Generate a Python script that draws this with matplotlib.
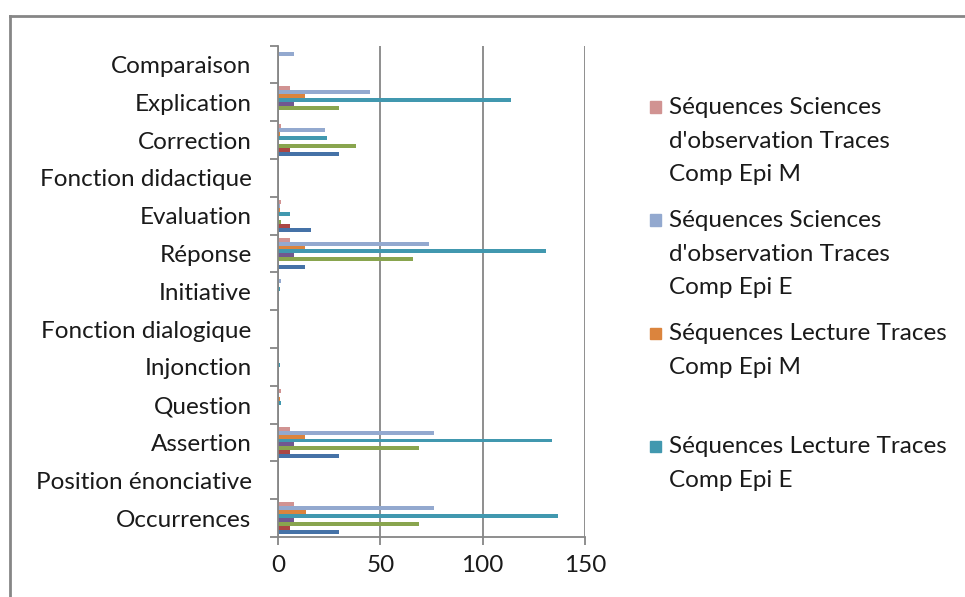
import matplotlib.pyplot as plt
import numpy as np
from matplotlib.patches import Rectangle

plt.rcParams['font.family'] = ['Lato', 'DejaVu Sans']

categories = ["Occurrences", "Position énonciative", "Assertion", "Question",
              "Injonction", "Fonction dialogique", "Initiative", "Réponse",
              "Evaluation", "Fonction didactique", "Correction", "Explication",
              "Comparaison"]

# series from bottom bar to top bar in each group
series_names = ["Séquences Lecture Traces Comp Lang E",
                "Séquences Lecture Traces Comp Lang M",
                "Séquences Sciences d'observation Traces Comp Lang E",
                "Séquences Sciences d'observation Traces Comp Lang M",
                "Séquences Lecture Traces Comp Epi E",
                "Séquences Lecture Traces Comp Epi M",
                "Séquences Sciences d'observation Traces Comp Epi E",
                "Séquences Sciences d'observation Traces Comp Epi M"]

s1 = [30, 0, 30, 0, 0, 0, 0, 13, 16, 0, 30, 0, 0]
s2 = [6, 0, 6, 0, 0, 0, 0, 0, 6, 0, 6, 0, 0]
s3 = [69, 0, 69, 0, 0, 0, 0, 66, 1.5, 0, 38, 30, 0]
s4 = [8, 0, 8, 0, 0, 0, 0, 8, 0, 0, 0, 8, 0]
s5 = [137, 0, 134, 1.5, 1, 0, 1, 131, 6, 0, 24, 114, 0]
s6 = [13.5, 0, 13, 1, 0, 0, 0, 13, 1, 0, 1, 13, 0]
s7 = [76, 0, 76, 0.5, 0, 0, 1.5, 74, 1, 0, 23, 45, 8]
s8 = [8, 0, 6, 1.5, 0, 0, 0, 6, 1.5, 0, 1.5, 6, 0]
all_series = [s1, s2, s3, s4, s5, s6, s7, s8]

colors = ["#4572A7", "#AA4643", "#89A54E", "#71588F",
          "#4198AF", "#DB843D", "#93A9CF", "#D19392"]

W, H = 965, 597
fs = 17.5
txt = "#1a1a1a"
fig = plt.figure(figsize=(W / 100, H / 100), dpi=100)
ax = fig.add_axes([278 / W, (H - 537) / H, (585 - 278) / W, (537 - 45.5) / H])

y = np.arange(len(categories))
h = 0.105
for i, vals in enumerate(all_series):
    off = -4 * h + h * (i + 0.5)
    ax.barh(y + off, vals, height=h, color=colors[i], label=series_names[i])

gray = "#868686"
ax.set_xlim(0, 150)
ax.set_ylim(-0.5, len(categories) - 0.5)
ax.set_xticks([0, 50, 100, 150])
ax.set_yticks(y)
ax.set_yticklabels(categories)
ax.set_yticks(np.arange(-0.5, len(categories), 1), minor=True)
ax.tick_params(axis='y', which='major', length=0, pad=19, labelsize=fs, labelcolor=txt)
ax.tick_params(axis='y', which='minor', length=6, width=1.3, color=gray)
ax.tick_params(axis='x', length=6, width=1.3, color=gray, pad=7, labelsize=fs, labelcolor=txt)
ax.xaxis.grid(True, color=gray, linewidth=1.3)
ax.set_axisbelow(True)
for s in ["top", "right"]:
    ax.spines[s].set_visible(False)
for s in ["left", "bottom"]:
    ax.spines[s].set_color(gray)
    ax.spines[s].set_linewidth(1.3)

# chart area border
fig.add_artist(plt.Line2D([10 / W, 10 / W], [0, 1 - 16 / H], color=gray, lw=2, transform=fig.transFigure))
fig.add_artist(plt.Line2D([10 / W, 1], [1 - 16 / H, 1 - 16 / H], color=gray, lw=2, transform=fig.transFigure))

# legend (only the last four series are visible)
legend_items = [(7, "Séquences Sciences\nd'observation Traces\nComp Epi M", 107),
                (6, "Séquences Sciences\nd'observation Traces\nComp Epi E", 220),
                (5, "Séquences Lecture Traces\nComp Epi M", 333),
                (4, "Séquences Lecture Traces\nComp Epi E", 446)]
for idx, label, ytop in legend_items:
    fig.add_artist(Rectangle((650 / W, 1 - (ytop + 5.5) / H), 11 / W, 11 / H,
                             color=colors[idx], transform=fig.transFigure))
    fig.text(669 / W, 1 - (ytop - 10) / H, label, fontsize=fs, va='top', ha='left',
             linespacing=1.74, color=txt)

fig.savefig("out.png", dpi=100)
